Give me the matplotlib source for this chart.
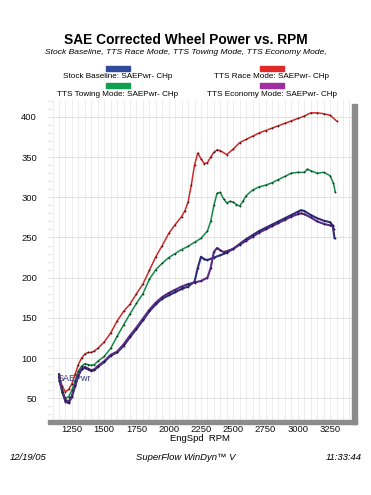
import matplotlib.pyplot as plt
from matplotlib.patches import Rectangle
from matplotlib.ticker import MultipleLocator

# engine speed samples (RPM) and corrected wheel power (CHp)
rpm_race = [1150, 1175, 1200, 1225, 1250, 1275, 1300, 1325, 1350, 1375, 1400, 1425, 1450,
            1500, 1550, 1600, 1650, 1700, 1750, 1800, 1850, 1900, 1950, 2000, 2050, 2100,
            2125, 2150, 2175, 2200, 2225, 2250, 2275, 2300, 2325, 2350, 2375, 2400, 2450,
            2500, 2550, 2600, 2650, 2700, 2750, 2800, 2850, 2900, 2950, 3000, 3050, 3100,
            3150, 3200, 3250, 3300]
race = [78, 65, 58, 61, 68, 80, 92, 100, 105, 107, 107, 109, 112,
        120, 131, 146, 158, 167, 180, 192, 209, 226, 240, 255, 266, 276,
        283, 294, 315, 340, 355, 348, 342, 343, 350, 356, 359, 358, 353,
        360, 368, 372, 376, 380, 383, 386, 389, 392, 395, 398, 401, 405,
        405, 404, 402, 395]

rpm_tow = [1150, 1175, 1200, 1225, 1250, 1275, 1300, 1325, 1350, 1375, 1400, 1425, 1450,
           1500, 1550, 1600, 1650, 1700, 1750, 1800, 1850, 1900, 1950, 2000, 2050, 2100,
           2150, 2200, 2250, 2300, 2325, 2350, 2375, 2400, 2425, 2450, 2475, 2500, 2525,
           2550, 2575, 2600, 2650, 2700, 2750, 2800, 2850, 2900, 2950, 3000, 3050, 3075,
           3100, 3150, 3200, 3250, 3275, 3290]
tow = [72, 58, 50, 52, 60, 72, 84, 90, 93, 92, 91, 92, 96,
       102, 112, 127, 141, 155, 168, 180, 198, 210, 218, 225, 230, 235,
       239, 244, 249, 258, 270, 290, 305, 306, 298, 293, 295, 294, 291,
       289, 295, 302, 309, 313, 315, 318, 322, 326, 330, 331, 331, 335,
       333, 330, 331, 327, 318, 307]

rpm_stock = [1150, 1175, 1200, 1225, 1250, 1275, 1300, 1325, 1350, 1375, 1400, 1425, 1450,
             1500, 1550, 1600, 1650, 1700, 1750, 1800, 1850, 1900, 1950, 2000, 2050, 2100,
             2150, 2200, 2225, 2250, 2275, 2300, 2350, 2400, 2450, 2500, 2550, 2600, 2650,
             2700, 2750, 2800, 2850, 2900, 2950, 3000, 3025, 3050, 3100, 3150, 3200, 3250,
             3270, 3285]
stock = [80, 58, 46, 44, 52, 65, 78, 86, 88, 86, 84, 85, 89,
         95, 103, 107, 115, 126, 136, 147, 158, 167, 174, 178, 182, 186,
         189, 195, 212, 226, 223, 222, 225, 228, 231, 236, 242, 248, 253,
         258, 262, 266, 270, 274, 278, 282, 284, 283, 278, 274, 271, 269,
         265, 249]

rpm_eco = [1150, 1175, 1200, 1225, 1250, 1275, 1300, 1325, 1350, 1375, 1400, 1425, 1450,
           1500, 1550, 1600, 1650, 1700, 1750, 1800, 1850, 1900, 1950, 2000, 2050, 2100,
           2150, 2200, 2250, 2300, 2325, 2350, 2375, 2400, 2425, 2450, 2500, 2550, 2600,
           2650, 2700, 2750, 2800, 2850, 2900, 2950, 3000, 3025, 3050, 3100, 3150, 3200,
           3250, 3270, 3280]
eco = [76, 60, 48, 46, 53, 66, 79, 87, 89, 87, 85, 86, 90,
       96, 104, 108, 117, 128, 138, 149, 160, 169, 176, 181, 185, 189,
       192, 194, 196, 200, 212, 232, 237, 234, 232, 233, 236, 241, 246,
       251, 256, 260, 264, 268, 272, 276, 279, 280, 279, 275, 270, 267,
       265, 264, 260]

x_ticks = [1250, 1500, 1750, 2000, 2250, 2500, 2750, 3000, 3250]
y_ticks = [50, 100, 150, 200, 250, 300, 350, 400]

# label, x, y, swatch colour, line colour, dot colour, line width
series = [
    ("Stock Baseline: SAEPwr- CHp", rpm_stock, stock, "#2f4c9c", "#2b2f7a", "#1c1c50", 1.5),
    ("TTS Race Mode: SAEPwr- CHp", rpm_race, race, "#e02a2a", "#cc2a2a", "#3a1010", 1.1),
    ("TTS Towing Mode: SAEPwr- CHp", rpm_tow, tow, "#12a050", "#128a48", "#103018", 1.1),
    ("TTS Economy Mode: SAEPwr- CHp", rpm_eco, eco, "#a02ea0", "#5a2a86", "#2a1448", 1.5),
]

plt.rcParams['font.family'] = ['Liberation Sans', 'DejaVu Sans']

fig = plt.figure(figsize=(3.71, 4.95), dpi=100)
ax = fig.add_axes([48 / 371, 1 - 420 / 495, 304 / 371, 320 / 495])

for label, xs, ys, sw, col, dot, lw in series:
    ax.plot(xs, ys, color=col, lw=lw, zorder=3)
    ax.plot(xs, ys, ls="none", marker="o", ms=1.3, mew=0, color=dot, zorder=4)

ax.set_xlim(1065, 3420)
ax.set_ylim(23, 421)
ax.set_xticks(x_ticks)
ax.set_yticks(y_ticks)
ax.xaxis.set_minor_locator(MultipleLocator(50))
ax.yaxis.set_minor_locator(MultipleLocator(10))
ax.grid(True, which="major", axis="y", color="#dcdcdc", lw=0.6)
ax.grid(True, which="minor", axis="x", color="#e6e6e6", lw=0.5)
ax.grid(True, which="major", axis="x", color="#e6e6e6", lw=0.5)
ax.tick_params(axis="both", which="both", length=0, labelsize=6.8, colors="#111111")
ax.tick_params(axis="y", which="minor", direction="in", length=3, color="#dddddd")
ax.tick_params(axis="y", pad=8)
for s in ax.spines.values():
    s.set_visible(False)

ax.text(1142, 75, "SAEPwr", fontsize=6.5, color="#3a3a80", va="center", zorder=5)
ax.set_xlabel("EngSpd  RPM", fontsize=6.8, labelpad=0)

# gray shadow along the right and bottom edges of the plot frame
fig.patches.append(Rectangle((352 / 371, 1 - 424 / 495), 5 / 371, 320 / 495,
                             transform=fig.transFigure, color="#8c8c8c", zorder=0))
fig.patches.append(Rectangle((48 / 371, 1 - 424 / 495), 309 / 371, 4 / 495,
                             transform=fig.transFigure, color="#8c8c8c", zorder=0))

fig.text(0.5, 1 - 40 / 495, "SAE Corrected Wheel Power vs. RPM", ha="center", va="center",
         fontsize=9.9, fontweight="bold")
fig.text(0.5, 1 - 52 / 495, "Stock Baseline, TTS Race Mode, TTS Towing Mode, TTS Economy Mode,",
         ha="center", va="center", fontsize=6.1, style="italic")

legend_pos = [(118, 68), (272, 68), (118, 85), (272, 85)]
for (label, xs, ys, sw, col, dot, lw), (cx, cy) in zip(series, legend_pos):
    fig.patches.append(Rectangle(((cx - 12) / 371, 1 - (cy + 2.5) / 495), 24 / 371, 5 / 495,
                                 transform=fig.transFigure, color=sw))
    fig.text(cx / 371, 1 - (cy + 9) / 495, label, ha="center", va="center", fontsize=5.9)

fig.text(10 / 371, 1 - 458 / 495, "12/19/05", ha="left", va="center", fontsize=6.8, style="italic")
fig.text(0.5, 1 - 458 / 495, "SuperFlow WinDyn\u2122 V", ha="center", va="center",
         fontsize=6.8, style="italic")
fig.text(362 / 371, 1 - 458 / 495, "11:33:44", ha="right", va="center", fontsize=6.8, style="italic")

fig.savefig("out.png", dpi=100)
